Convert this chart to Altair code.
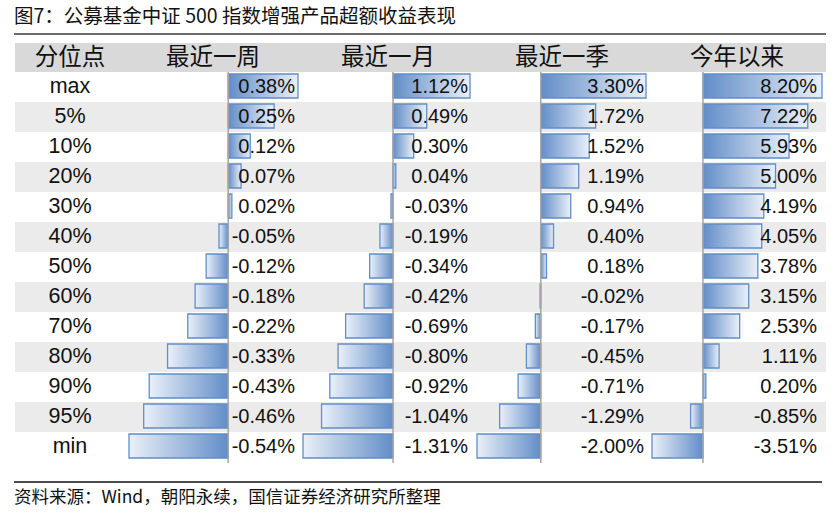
import altair as alt
import pandas as pd

rows = ["max", "5%", "10%", "20%", "30%", "40%", "50%", "60%", "70%", "80%", "90%", "95%", "min"]
week = [0.38, 0.25, 0.12, 0.07, 0.02, -0.05, -0.12, -0.18, -0.22, -0.33, -0.43, -0.46, -0.54]
month = [1.12, 0.49, 0.30, 0.04, -0.03, -0.19, -0.34, -0.42, -0.69, -0.80, -0.92, -1.04, -1.31]
quarter = [3.30, 1.72, 1.52, 1.19, 0.94, 0.40, 0.18, -0.02, -0.17, -0.45, -0.71, -1.29, -2.00]
ytd = [8.20, 7.22, 5.93, 5.00, 4.19, 4.05, 3.78, 3.15, 2.53, 1.11, 0.20, -0.85, -3.51]

headers = ["分位点", "最近一周", "最近一月", "最近一季", "今年以来"]
title_text = "图7：公募基金中证 500 指数增强产品超额收益表现"
source_text = "资料来源：Wind，朝阳永续，国信证券经济研究所整理"

df = pd.DataFrame({"row": rows, "week": week, "month": month, "quarter": quarter, "ytd": ytd})
one = pd.DataFrame({"k": [0]})

CN = "Noto Sans CJK SC"
EN = "Liberation Sans"
DARK = "#628dc8"
LIGHT = "#eaf0f8"

yscale = alt.Scale(domain=rows, range=[72, 462], paddingInner=0, paddingOuter=0)
Y = alt.Y("row:N", scale=yscale, axis=None)

grad_pos = alt.LinearGradient(
    gradient="linear",
    stops=[alt.GradientStop(color=DARK, offset=0), alt.GradientStop(color=LIGHT, offset=1)],
    x1=0, x2=1, y1=0, y2=0,
)
grad_neg = alt.LinearGradient(
    gradient="linear",
    stops=[alt.GradientStop(color=LIGHT, offset=0), alt.GradientStop(color=DARK, offset=1)],
    x1=0, x2=1, y1=0, y2=0,
)

base = alt.Chart(df)
layers = []

# backgrounds
layers.append(
    alt.Chart(one).mark_rect(color="#d9d9d9").encode(
        x=alt.value(15), x2=alt.value(826), y=alt.value(43), y2=alt.value(72)
    )
)
layers.append(
    base.transform_window(idx="row_number()")
    .transform_filter("datum.idx % 2 == 0")
    .mark_rect(color="#ebebeb")
    .encode(y=Y, x=alt.value(15), x2=alt.value(826))
)

# title, lines, footer
layers.append(
    alt.Chart(one).mark_text(align="left", baseline="middle", font=CN, fontSize=19.5, color="#111")
    .encode(x=alt.value(14), y=alt.value(17), text=alt.value(title_text))
)
layers.append(
    alt.Chart(one).mark_rule(color="#6b6b6b", strokeWidth=2)
    .encode(x=alt.value(14), x2=alt.value(826), y=alt.value(34))
)
layers.append(
    alt.Chart(one).mark_rule(color="#111", strokeWidth=1.5)
    .encode(x=alt.value(14), x2=alt.value(822), y=alt.value(482))
)
layers.append(
    alt.Chart(one).mark_text(align="left", baseline="middle", font=CN, fontSize=17.5, color="#111")
    .encode(x=alt.value(14), y=alt.value(498), text=alt.value(source_text))
)

# headers
header_x = [70, 213, 388, 562, 737]
for h, hx in zip(headers, header_x):
    layers.append(
        alt.Chart(one).mark_text(align="center", baseline="middle", font=CN, fontSize=23.5, color="#111")
        .encode(x=alt.value(hx), y=alt.value(58), text=alt.value(h))
    )

# row labels
layers.append(
    base.mark_text(align="center", baseline="middle", font=EN, fontSize=21.5, color="#111")
    .encode(y=Y, x=alt.value(70), text="row:N")
)

cols = [
    ("week", [-0.54, 0.38], [129, 298], 295),
    ("month", [-1.31, 1.12], [303, 470], 468),
    ("quarter", [-2.00, 3.30], [477, 646], 644),
    ("ytd", [-3.51, 8.20], [652, 822], 817),
]

for field, dom, rng, lx in cols:
    xs = alt.Scale(domain=dom, range=rng, nice=False, zero=False)
    X = alt.X(f"{field}:Q", scale=xs, axis=None, stack=None)
    layers.append(
        base.transform_filter(f"datum.{field} > 0")
        .mark_bar(height=24, yOffset=-1, fill=grad_pos, stroke=DARK, strokeWidth=1.3)
        .encode(y=Y, x=X, x2=alt.X2Datum(0))
    )
    layers.append(
        base.transform_filter(f"datum.{field} < 0")
        .mark_bar(height=24, yOffset=-1, fill=grad_neg, stroke=DARK, strokeWidth=1.3)
        .encode(y=Y, x=X, x2=alt.X2Datum(0))
    )
    layers.append(
        alt.Chart(one).mark_rule(color="#a6a6a6", strokeWidth=1.5)
        .encode(x=alt.XDatum(0, scale=xs, axis=None), y=alt.value(72), y2=alt.value(463))
    )
    layers.append(
        base.transform_calculate(
            lab=f"(datum.{field} < 0 ? '-' : '') + format(abs(datum.{field}), '.2f') + '%'"
        )
        .mark_text(align="right", baseline="middle", font=EN, fontSize=20, color="#111")
        .encode(y=Y, x=alt.value(lx), text="lab:N")
    )

chart = (
    alt.layer(*layers)
    .resolve_scale(x="independent")
    .properties(width=835, height=514, padding=0, autosize=alt.AutoSizeParams(type="none"), background="white")
    .configure_view(stroke=None)
)

chart.save("out.html", embed_options={"renderer": "svg", "actions": False})
